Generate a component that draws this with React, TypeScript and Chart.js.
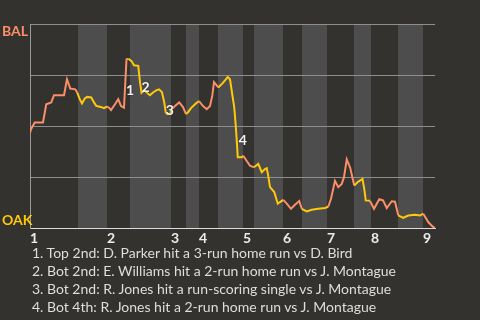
import { useEffect, useRef } from "react";
import { Chart, registerables } from "chart.js";

Chart.register(...registerables);

// Game progress (play number) and Baltimore's win probability (%) after each play
const playIndex = [
  0, 0.4, 1.9, 5.2, 6.5, 8.5, 9.6, 13.6, 14.8, 15.5, 16.1, 18.1, 18.9,
  19.9, 20.8, 21.9, 22.9, 24.5, 25.6, 26.5, 28.3, 29.6, 30.8,
  31.6, 32.4, 34.0, 35.3, 36.4, 37.6, 38.6, 39.4,
  40.7, 41.6, 43.3, 44.0, 44.6, 45.8, 47.0, 48.0, 49.3, 50.7, 51.6, 52.8, 53.7, 54.3, 54.8, 56.0,
  56.7, 58.0, 59.7, 61.2, 62.4,
  63.2, 64.4, 66.0, 67.6,
  69.1, 70.7, 72.0, 72.9, 73.6, 74.3, 75.3,
  76.9, 78.0, 79.1, 80.0, 80.7, 81.7, 82.3, 82.8, 83.1, 84.7,
  85.3, 86.7, 88.0, 89.6,
  91.3, 92.7, 94.0, 94.7, 95.3, 96.0, 97.7, 99.1, 100.0, 101.3,
  102.7, 104.4, 106.0, 107.7,
  108.7, 110.7, 112.7, 115.3, 118.0,
  119.3, 120.4, 122.0, 123.3, 124.7, 125.6, 126.7, 128.1, 129.7,
  131.2, 133.0, 133.7, 134.3, 136.0,
  137.6, 139.7, 141.2, 142.7, 144.7, 146.0, 147.3,
  149.3, 151.3, 154.0, 156.0, 157.3,
  159.3, 160.9, 162,
];
const balWinPct = [
  46.6, 48.5, 51.8, 51.8, 60.7, 61.6, 65.1, 65.1, 72.9, 70.5, 68.4, 68.0, 66.4,
  63.2, 61.1, 63.5, 64.3, 64.0, 61.6, 59.9, 59.4, 58.8, 59.6,
  59.0, 57.8, 60.7, 63.2, 59.8, 59.0, 82.7, 83.0,
  81.7, 79.8, 79.5, 71.5, 66.3, 67.6, 66.1, 65.1, 66.6, 67.6, 68.0, 66.6, 61.6, 56.7, 55.9, 55.9,
  58.3, 59.8, 61.6, 59.3, 55.9,
  56.8, 58.8, 60.7, 62.3,
  59.9, 58.3, 59.9, 64.8, 71.5, 70.5, 68.9,
  70.8, 72.4, 74.0, 72.9, 67.2, 59.1, 50.1, 41.2, 34.7, 34.7,
  35.5, 32.9, 30.6, 29.8,
  31.5, 27.4, 29.0, 29.4, 25.6, 20.1, 17.7, 12.0, 12.8, 13.9,
  12.0, 9.5, 11.5, 13.3,
  9.5, 8.2, 9.0, 9.5, 9.9,
  10.5, 14.4, 23.2, 20.1, 21.7, 25.0, 33.7, 29.5, 20.9,
  22.7, 24.1, 19.3, 13.6, 13.4,
  9.5, 14.2, 13.6, 9.9, 13.2, 13.0, 6.3,
  5.1, 6.2, 6.6, 6.2, 7.1,
  3.0, 1.0, 0,
];

// First play of each half-inning (top 1, bottom 1, top 2, ...) and the final play
const halfInningStarts = [
  0, 19.2, 30.8, 40, 56.4, 62.4, 67.6, 75.2, 85.2, 89.6, 101.2, 108.8, 118.8, 129.6, 136.4, 147.2, 157.2,
];
const lastPlay = 162;
const inningLabels = ["1", "2", "3", "4", "5", "6", "7", "8", "9"];

// Key plays
const keyPlayMarks = ["1", "2", "3", "4"];
const keyPlayX = [40.0, 46.2, 55.9, 85.1];
const keyPlayY = [67.4, 68.9, 57.5, 43.0];
const keyPlayNotes = [
  "1. Top 2nd: D. Parker hit a 3-run home run vs D. Bird",
  "2. Bot 2nd: E. Williams hit a 2-run home run vs J. Montague",
  "3. Bot 2nd: R. Jones hit a run-scoring single vs J. Montague",
  "4. Bot 4th: R. Jones hit a 2-run home run vs J. Montague",
];

const awayTeam = "BAL";
const homeTeam = "OAK";

const BG = "#34322e";
const BAND = "#4d4d4d";
const AWAY_COLOR = "#fb8f68";
const HOME_COLOR = "#ffc90a";
const FONT = "Lato, 'DejaVu Sans', sans-serif";

function halfInningOf(x: number): number {
  let k = 0;
  for (let i = 0; i < halfInningStarts.length; i++) {
    if (x >= halfInningStarts[i]) k = i;
  }
  return k;
}

const bandsPlugin = {
  id: "inningBands",
  beforeDraw(chart: any) {
    const { ctx, chartArea, scales } = chart;
    ctx.save();
    ctx.fillStyle = BG;
    ctx.fillRect(0, 0, chart.width, chart.height);
    ctx.fillStyle = BAND;
    for (let i = 1; i < halfInningStarts.length; i += 2) {
      const x0 = scales.x.getPixelForValue(halfInningStarts[i]);
      const end = i + 1 < halfInningStarts.length ? halfInningStarts[i + 1] : lastPlay;
      const x1 = scales.x.getPixelForValue(end);
      ctx.fillRect(x0, chartArea.top, x1 - x0, chartArea.bottom - chartArea.top);
    }
    ctx.restore();
  },
};

const labelsPlugin = {
  id: "teamAndKeyLabels",
  afterDraw(chart: any) {
    const { ctx, chartArea, scales } = chart;
    ctx.save();
    ctx.font = `bold 14px ${FONT}`;
    ctx.textAlign = "left";
    ctx.textBaseline = "middle";
    ctx.fillStyle = AWAY_COLOR;
    ctx.fillText(awayTeam, 2, chartArea.top + 7);
    ctx.fillStyle = HOME_COLOR;
    ctx.fillText(homeTeam, 2, chartArea.bottom - 8);

    ctx.textAlign = "center";
    ctx.fillStyle = "#f2f2f2";
    ctx.shadowColor = "rgba(0,0,0,0.45)";
    ctx.shadowBlur = 2;
    keyPlayMarks.forEach((m, i) => {
      const px = scales.x.getPixelForValue(keyPlayX[i]);
      const py = scales.y.getPixelForValue(keyPlayY[i]);
      ctx.fillText(m, px, py);
    });
    ctx.restore();
  },
};

export default function App() {
  const canvasRef = useRef<HTMLCanvasElement | null>(null);

  useEffect(() => {
    if (!canvasRef.current) return;
    const chart = new Chart(canvasRef.current, {
      type: "line",
      data: {
        datasets: [
          {
            data: playIndex.map((x, i) => ({ x, y: balWinPct[i] })),
            borderWidth: 2,
            pointRadius: 0,
            tension: 0,
            borderColor: AWAY_COLOR,
            segment: {
              borderColor: (ctx: any) => {
                const mid = (ctx.p0.parsed.x + ctx.p1.parsed.x) / 2;
                return halfInningOf(mid) % 2 === 0 ? AWAY_COLOR : HOME_COLOR;
              },
            },
          },
        ],
      },
      options: {
        responsive: false,
        animation: false,
        layout: { padding: { left: 30, top: 24, right: 45, bottom: 71 } },
        plugins: {
          legend: { display: false },
          tooltip: { enabled: false },
        },
        scales: {
          x: {
            type: "linear",
            min: 0,
            max: lastPlay,
            grid: { display: false, drawTicks: false },
            border: { display: true, color: "#dcdcdc", width: 1 },
            afterBuildTicks: (axis: any) => {
              axis.ticks = halfInningStarts
                .filter((_, i) => i % 2 === 0)
                .map((value) => ({ value }));
            },
            ticks: {
              align: "start",
              autoSkip: false,
              maxRotation: 0,
              padding: 2,
              color: "#ececec",
              font: { family: FONT, size: 14, weight: "bold" },
              callback: (_v: any, index: number) => inningLabels[index],
            },
          },
          y: {
            min: 0,
            max: 100,
            grid: {
              drawTicks: false,
              color: (ctx: any) => (ctx.tick && ctx.tick.value === 0 ? "rgba(0,0,0,0)" : "#8e8e8e"),
            },
            border: { display: true, color: "#9a9a9a", width: 1 },
            afterBuildTicks: (axis: any) => {
              axis.ticks = [0, 25, 50, 75, 100].map((value) => ({ value }));
            },
            ticks: { display: false },
          },
        },
      },
      plugins: [bandsPlugin, labelsPlugin],
    });
    return () => chart.destroy();
  }, []);

  return (
    <div
      style={{
        position: "fixed",
        left: 0,
        top: 0,
        width: 480,
        height: 320,
        background: BG,
        overflow: "hidden",
      }}
    >
      <canvas ref={canvasRef} width={480} height={320} style={{ position: "absolute", left: 0, top: 0 }} />
      <div
        style={{
          position: "absolute",
          left: 32,
          top: 244,
          fontFamily: FONT,
          fontSize: 14,
          lineHeight: "18px",
          color: "#dedede",
          whiteSpace: "nowrap",
        }}
      >
        {keyPlayNotes.map((t) => (
          <div key={t}>{t}</div>
        ))}
      </div>
    </div>
  );
}
